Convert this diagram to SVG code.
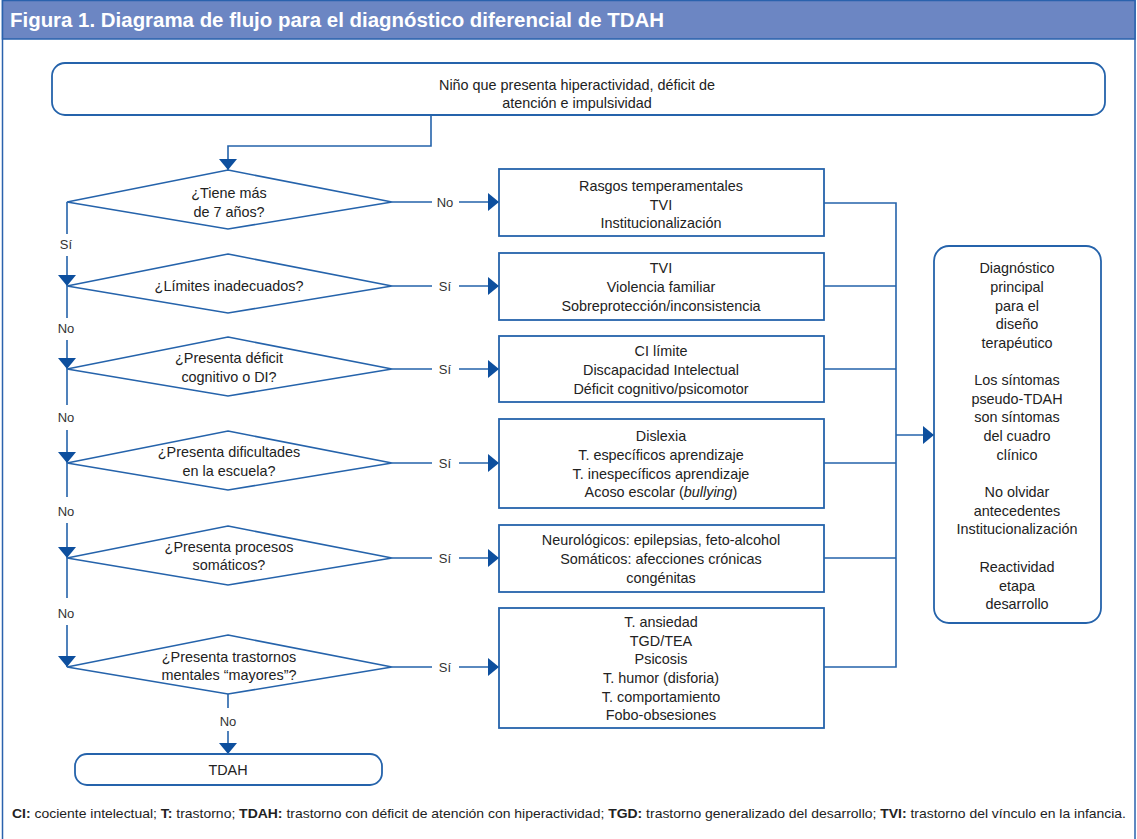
<svg xmlns="http://www.w3.org/2000/svg" width="1137" height="839" viewBox="0 0 1137 839">
<style>
  .t{font-family:"Liberation Sans",Arial,sans-serif;font-size:14.4px;fill:#222;text-anchor:middle}
  .lbl{font-family:"Liberation Sans",Arial,sans-serif;font-size:13px;fill:#333;text-anchor:middle}
  .box{fill:#fff;stroke:#2563ab;stroke-width:1.8}
  .dia{fill:#fff;stroke:#2563ab;stroke-width:1.6}
  .ln{fill:none;stroke:#2563ab;stroke-width:1.6}
  .title{font-family:"Liberation Sans",Arial,sans-serif;font-size:20px;font-weight:bold;fill:#fff}
  .foot{font-family:"Liberation Sans",Arial,sans-serif;font-size:13.5px;fill:#222}
</style>
<defs>
  <marker id="ah" viewBox="0 0 11 18" refX="11" refY="9" markerWidth="11" markerHeight="18" orient="auto" markerUnits="userSpaceOnUse">
    <path d="M0,0 L11,9 L0,18 Z" fill="#0d4f9e"/>
  </marker>
</defs>
<rect x="0" y="0" width="1137" height="839" fill="#fff"/>
<rect x="2.5" y="0.5" width="1132.5" height="850" fill="none" stroke="#2a62ad" stroke-width="1.5"/>
<rect x="2.5" y="0.5" width="1132.5" height="38.5" fill="#6c86c3" stroke="#2a62ad" stroke-width="1.5"/>
<text class="title" x="10" y="27" textLength="654" lengthAdjust="spacingAndGlyphs">Figura 1. Diagrama de flujo para el diagnóstico diferencial de TDAH</text>

<g id="connectors">
  <path class="ln" d="M431,115 V146 H228 V170" marker-end="url(#ah)"/>
  <path class="ln" d="M392,202 H432 M459,202 H499" marker-end="url(#ah)"/>
  <path class="ln" d="M392,286 H432 M459,286 H499" marker-end="url(#ah)"/>
  <path class="ln" d="M392,369 H432 M459,369 H499" marker-end="url(#ah)"/>
  <path class="ln" d="M392,463 H432 M459,463 H499" marker-end="url(#ah)"/>
  <path class="ln" d="M392,558 H432 M459,558 H499" marker-end="url(#ah)"/>
  <path class="ln" d="M392,667 H432 M459,667 H499" marker-end="url(#ah)"/>
  <path class="ln" d="M67,202 V234 M67,256 V286" marker-end="url(#ah)"/>
  <path class="ln" d="M67,286 V318 M67,340 V369" marker-end="url(#ah)"/>
  <path class="ln" d="M67,369 V405 M67,430 V463" marker-end="url(#ah)"/>
  <path class="ln" d="M67,463 V497 M67,523 V558" marker-end="url(#ah)"/>
  <path class="ln" d="M67,558 V598 M67,625 V667" marker-end="url(#ah)"/>
  <path class="ln" d="M228,694 V708 M228,731 V754" marker-end="url(#ah)"/>
  <path class="ln" d="M824,203 H896 M824,286 H896 M824,369 H896 M824,463 H896 M824,558 H896 M824,667 H896 M896,202.2 V667.8"/>
  <path class="ln" d="M896,435 H934" marker-end="url(#ah)"/>
  <text class="lbl" x="445" y="207">No</text>
  <text class="lbl" x="445" y="291">Sí</text>
  <text class="lbl" x="445" y="374">Sí</text>
  <text class="lbl" x="445" y="468">Sí</text>
  <text class="lbl" x="445" y="563">Sí</text>
  <text class="lbl" x="445" y="672">Sí</text>
  <text class="lbl" x="66" y="249">Sí</text>
  <text class="lbl" x="66" y="333">No</text>
  <text class="lbl" x="66" y="422">No</text>
  <text class="lbl" x="66" y="516">No</text>
  <text class="lbl" x="66" y="618">No</text>
  <text class="lbl" x="228" y="726">No</text>
</g>

<g id="start">
  <rect class="box" x="52" y="63" width="1053" height="52" rx="13"/>
  <text class="t" x="577" y="90">Niño que presenta hiperactividad, déficit de</text>
  <text class="t" x="577" y="108">atención e impulsividad</text>
</g>

<g id="q1">
  <polygon class="dia" points="228,170 392,202 228,229 67,202"/>
  <text class="t" x="229" y="198">¿Tiene más</text>
  <text class="t" x="229" y="217">de 7 años?</text>
</g>
<g id="q2">
  <polygon class="dia" points="228,254 392,286 228,313 67,286"/>
  <text class="t" x="229" y="291">¿Límites inadecuados?</text>
</g>
<g id="q3">
  <polygon class="dia" points="228,337 392,369 228,396 67,369"/>
  <text class="t" x="229" y="363">¿Presenta déficit</text>
  <text class="t" x="229" y="382">cognitivo o DI?</text>
</g>
<g id="q4">
  <polygon class="dia" points="228,431 392,463 228,490 67,463"/>
  <text class="t" x="229" y="457">¿Presenta dificultades</text>
  <text class="t" x="229" y="476">en la escuela?</text>
</g>
<g id="q5">
  <polygon class="dia" points="228,526 392,558 228,585 67,558"/>
  <text class="t" x="229" y="552">¿Presenta procesos</text>
  <text class="t" x="229" y="570">somáticos?</text>
</g>
<g id="q6">
  <polygon class="dia" points="228,635 392,667 228,694 67,667"/>
  <text class="t" x="229" y="662">¿Presenta trastornos</text>
  <text class="t" x="229" y="680">mentales “mayores”?</text>
</g>

<g id="r1">
  <rect class="box" x="499" y="169" width="325" height="67"/>
  <text class="t" x="661" y="191">Rasgos temperamentales</text>
  <text class="t" x="661" y="210">TVI</text>
  <text class="t" x="661" y="228">Institucionalización</text>
</g>
<g id="r2">
  <rect class="box" x="499" y="253" width="325" height="67"/>
  <text class="t" x="661" y="273">TVI</text>
  <text class="t" x="661" y="292">Violencia familiar</text>
  <text class="t" x="661" y="311">Sobreprotección/inconsistencia</text>
</g>
<g id="r3">
  <rect class="box" x="499" y="336" width="325" height="66"/>
  <text class="t" x="661" y="356">CI límite</text>
  <text class="t" x="661" y="375">Discapacidad Intelectual</text>
  <text class="t" x="661" y="394">Déficit cognitivo/psicomotor</text>
</g>
<g id="r4">
  <rect class="box" x="499" y="419" width="325" height="89"/>
  <text class="t" x="661" y="441">Dislexia</text>
  <text class="t" x="661" y="460">T. específicos aprendizaje</text>
  <text class="t" x="661" y="479">T. inespecíficos aprendizaje</text>
  <text class="t" x="661" y="497">Acoso escolar (<tspan font-style="italic">bullying</tspan>)</text>
</g>
<g id="r5">
  <rect class="box" x="499" y="525" width="325" height="67"/>
  <text class="t" x="661" y="545">Neurológicos: epilepsias, feto-alcohol</text>
  <text class="t" x="661" y="564">Somáticos: afecciones crónicas</text>
  <text class="t" x="661" y="583">congénitas</text>
</g>
<g id="r6">
  <rect class="box" x="499" y="608" width="325" height="120"/>
  <text class="t" x="661" y="627">T. ansiedad</text>
  <text class="t" x="661" y="646">TGD/TEA</text>
  <text class="t" x="661" y="664">Psicosis</text>
  <text class="t" x="661" y="683">T. humor (disforia)</text>
  <text class="t" x="661" y="702">T. comportamiento</text>
  <text class="t" x="661" y="720">Fobo-obsesiones</text>
</g>

<g id="summary">
  <rect class="box" x="934" y="246" width="167" height="377" rx="15"/>
  <text class="t" x="1017" y="273">Diagnóstico</text>
  <text class="t" x="1017" y="292">principal</text>
  <text class="t" x="1017" y="311">para el</text>
  <text class="t" x="1017" y="329">diseño</text>
  <text class="t" x="1017" y="348">terapéutico</text>
  <text class="t" x="1017" y="385">Los síntomas</text>
  <text class="t" x="1017" y="404">pseudo-TDAH</text>
  <text class="t" x="1017" y="422">son síntomas</text>
  <text class="t" x="1017" y="441">del cuadro</text>
  <text class="t" x="1017" y="460">clínico</text>
  <text class="t" x="1017" y="497">No olvidar</text>
  <text class="t" x="1017" y="516">antecedentes</text>
  <text class="t" x="1017" y="534">Institucionalización</text>
  <text class="t" x="1017" y="572">Reactividad</text>
  <text class="t" x="1017" y="591">etapa</text>
  <text class="t" x="1017" y="609">desarrollo</text>
</g>

<g id="end">
  <rect class="box" x="75" y="754" width="307" height="31" rx="12"/>
  <text class="t" x="228" y="775">TDAH</text>
</g>

<text class="foot" x="12" y="818" textLength="1114" lengthAdjust="spacingAndGlyphs"><tspan font-weight="bold">CI:</tspan> cociente intelectual; <tspan font-weight="bold">T:</tspan> trastorno; <tspan font-weight="bold">TDAH:</tspan> trastorno con déficit de atención con hiperactividad; <tspan font-weight="bold">TGD:</tspan> trastorno generalizado del desarrollo; <tspan font-weight="bold">TVI:</tspan> trastorno del vínculo en la infancia.</text>
</svg>
